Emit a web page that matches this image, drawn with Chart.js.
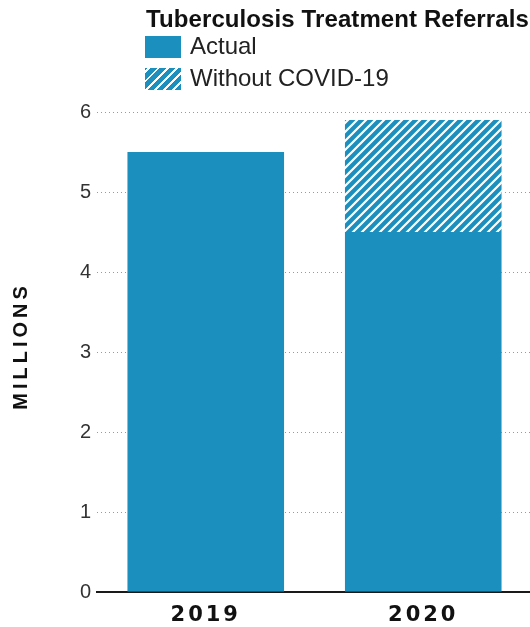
<!DOCTYPE html>
<html>
<head>
<meta charset="utf-8">
<script src="https://cdn.jsdelivr.net/npm/chart.js@4"></script>
<style>
  html, body { margin: 0; padding: 0; background: #fff; overflow: hidden; }
  #wrap { position: relative; width: 540px; height: 627px; }
  #title { position: absolute; left: 146px; top: 7px; font: bold 24px "Liberation Sans", Arial, sans-serif; line-height: 24px; color: #111; white-space: nowrap; letter-spacing: 0.1px; }
  .leg { position: absolute; left: 145px; height: 22px; font: 24px "Liberation Sans", Arial, sans-serif; line-height: 24px; color: #222; white-space: nowrap; }
  .leg .box { position: absolute; left: 0; top: 0; width: 36px; height: 22px; }
  .leg .txt { position: absolute; left: 45px; top: -2px; }
  #leg1 { top: 36px; }
  #leg2 { top: 68px; }
  #leg1 .box { background: #1b8fbd; }
  #leg2 .box { background: repeating-linear-gradient(-45deg, #1b8fbd 0px, #1b8fbd 4.5px, #ffffff 4.5px, #ffffff 6.5px); }
</style>
</head>
<body>
<div id="wrap">
  <canvas id="c" width="540" height="627"></canvas>
  <div id="title">Tuberculosis Treatment Referrals</div>
  <div class="leg" id="leg1"><div class="box"></div><div class="txt">Actual</div></div>
  <div class="leg" id="leg2"><div class="box"></div><div class="txt">Without COVID-19</div></div>
</div>
<script>
// ---- data ----
const categories = ['2019', '2020'];
const actualValues = [5.5, 4.5];
const withoutCovidTotals = [null, 5.9];
const yTicks = [0, 1, 2, 3, 4, 5, 6];
const seriesNames = ['Actual', 'Without COVID-19'];
const yAxisTitle = 'MILLIONS';

const BLUE = '#1b8fbd';
const extraValues = withoutCovidTotals.map((t, i) => t == null ? null : +(t - actualValues[i]).toFixed(3));

function makeHatch() {
  const s = 9;
  const p = document.createElement('canvas');
  p.width = s; p.height = s;
  const g = p.getContext('2d');
  g.fillStyle = BLUE; g.fillRect(0, 0, s, s);
  g.strokeStyle = '#ffffff'; g.lineWidth = 2.2;
  g.beginPath();
  g.moveTo(-1, s + 1); g.lineTo(s + 1, -1);
  g.moveTo(-1, 1); g.lineTo(1, -1);
  g.moveTo(s - 1, s + 1); g.lineTo(s + 1, s - 1);
  g.stroke();
  return document.getElementById('c').getContext('2d').createPattern(p, 'repeat');
}

const spacingPlugin = {
  id: 'spacing',
  beforeDraw(chart) {
    const patch = (scale, method, sp, dy) => {
      if (!scale || scale['_p_' + method]) return;
      const orig = scale[method].bind(scale);
      scale[method] = function (...args) {
        const c = this.ctx; const prev = c.letterSpacing;
        c.save();
        if (dy) c.translate(0, dy);
        c.letterSpacing = sp; orig(...args); c.letterSpacing = prev;
        c.restore();
      };
      scale['_p_' + method] = true;
    };
    patch(chart.scales.x, 'drawLabels', '3px', 0);
    patch(chart.scales.y, 'drawTitle', '4px', -6);
  }
};

new Chart(document.getElementById('c'), {
  type: 'bar',
  data: {
    labels: categories,
    datasets: [
      { label: seriesNames[0], data: actualValues, backgroundColor: BLUE, borderWidth: 0,
        barPercentage: 0.72, categoryPercentage: 1.0 },
      { label: seriesNames[1], data: extraValues, backgroundColor: makeHatch(), borderWidth: 0,
        barPercentage: 0.72, categoryPercentage: 1.0 }
    ]
  },
  options: {
    responsive: false,
    animation: false,
    devicePixelRatio: 1,
    layout: { padding: { top: 112, right: 8, left: 0, bottom: 0 } },
    plugins: { legend: { display: false }, title: { display: false }, tooltip: { enabled: false } },
    scales: {
      x: {
        stacked: true,
        grid: { display: false },
        border: { display: true, color: '#1a1a1a', width: 2 },
        ticks: { color: '#111', padding: 3, font: { family: 'DejaVu Sans', weight: 'bold', size: 21 } },
        afterFit(s) { s.height = 35; }
      },
      y: {
        stacked: true,
        min: 0, max: 6,
        afterBuildTicks(s) { s.ticks = yTicks.map(v => ({ value: v })); },
        grid: {
          drawTicks: false,
          color: (ctx) => (ctx.tick && ctx.tick.value === 0) ? 'rgba(0,0,0,0)' : '#9a9a9a',
          lineWidth: 1
        },
        border: { display: false, dash: [1, 3] },
        ticks: { color: '#333', padding: 6, font: { family: 'Liberation Sans', size: 20 } },
        title: { display: true, text: yAxisTitle, color: '#111', padding: { top: 9, bottom: 0 },
                 font: { family: 'Liberation Sans', weight: 'bold', size: 20 } },
        afterFit(s) { s.width = 97; }
      }
    }
  },
  plugins: [spacingPlugin]
});
</script>
</body>
</html>
